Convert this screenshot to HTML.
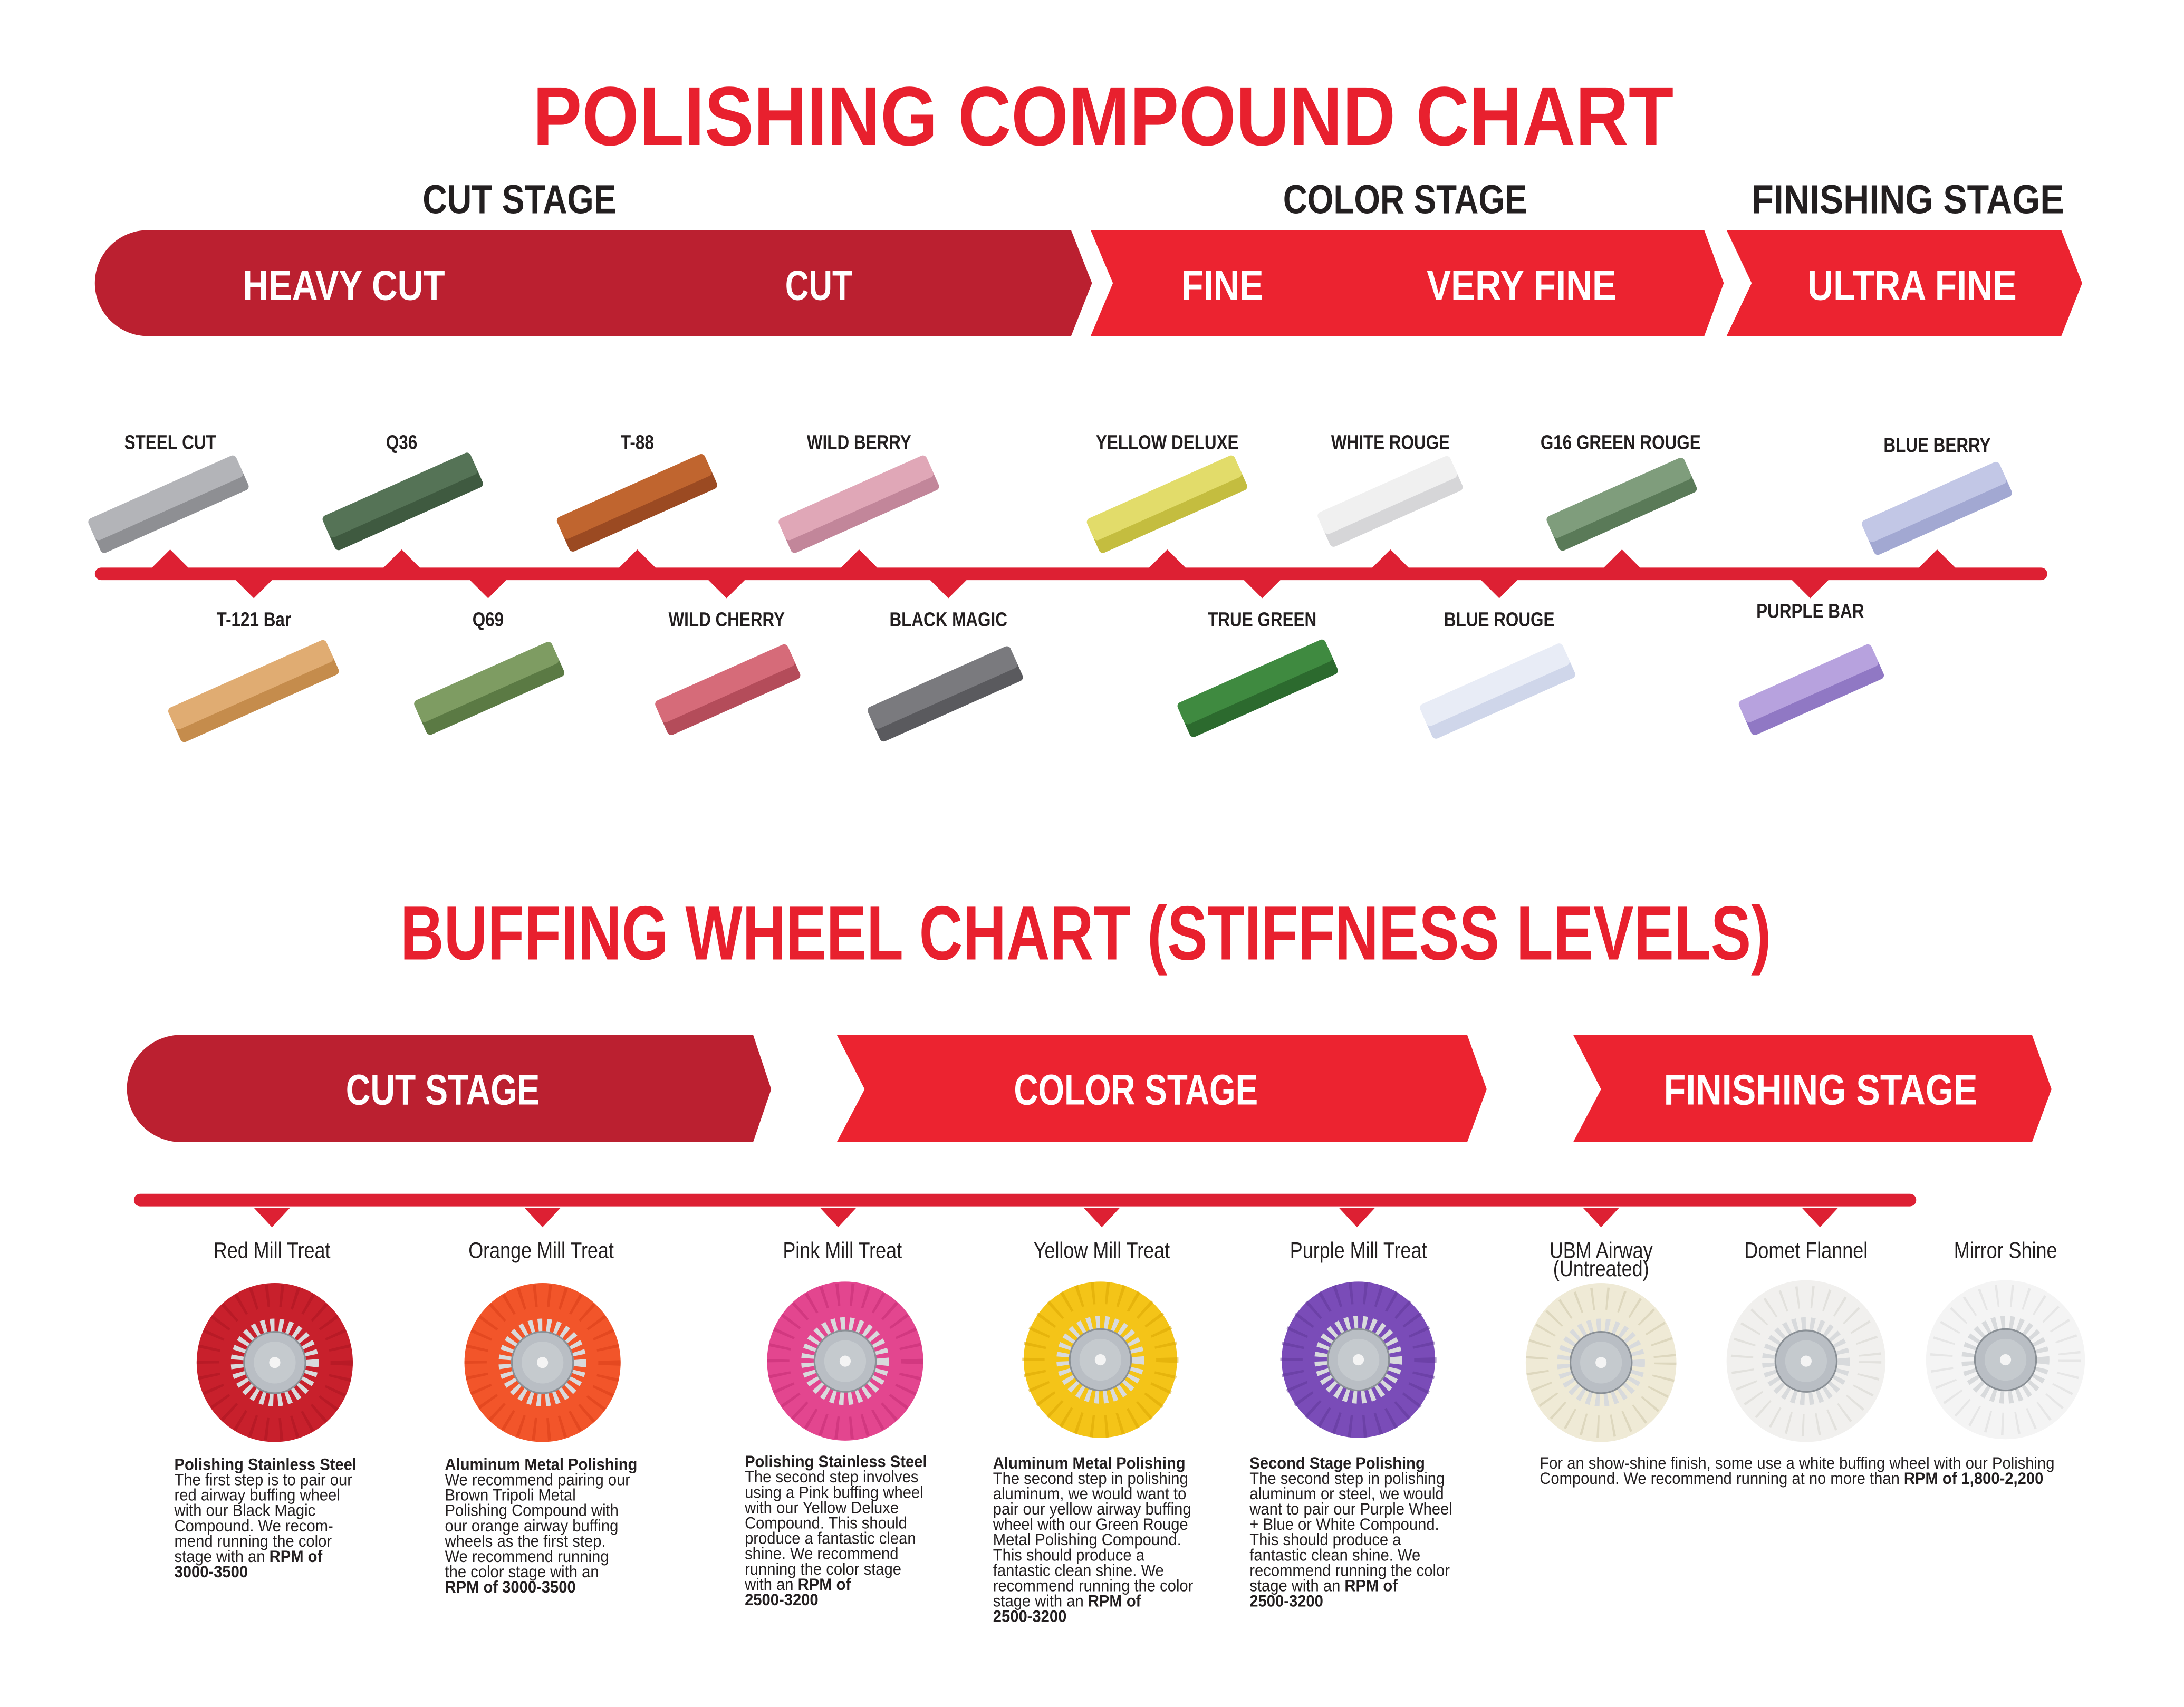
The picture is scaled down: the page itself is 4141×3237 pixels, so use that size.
<!DOCTYPE html>
<html><head><meta charset="utf-8"><style>
html,body{margin:0;padding:0;background:#fff;}
svg{display:block;}
text{font-family:"Liberation Sans",sans-serif;}
.h{font-weight:bold;}
.lb{font-weight:bold;font-size:14.5px;fill:#231f20;text-anchor:middle;}
.wl{font-size:16px;fill:#231f20;text-anchor:middle;}
.bd{font-size:12px;fill:#231f20;}
.bd tspan.b{font-weight:bold;}
</style></head><body>
<svg width="4141" height="3237" viewBox="0 0 1566 1224" preserveAspectRatio="none" xmlns="http://www.w3.org/2000/svg">
<defs>
<g id="wheelcore">
<circle r="27" fill="none" stroke="#d8dadc" stroke-width="9" stroke-dasharray="3 3.2"/>
<circle r="22" fill="#b9bec4" stroke="#8a9096" stroke-width="1.2"/>
<circle r="15" fill="#cdd2d6" opacity="0.6"/>
<circle r="4" fill="#f4f4f4"/>
</g>
</defs>
<rect width="1566" height="1224" fill="#fff"/>

<text x="382" y="104" class="h" font-size="60" fill="#e8202e" textLength="818" lengthAdjust="spacingAndGlyphs">POLISHING COMPOUND CHART</text>
<text x="303" y="153" class="h" font-size="29" fill="#231f20" textLength="139" lengthAdjust="spacingAndGlyphs">CUT STAGE</text>
<text x="920" y="153" class="h" font-size="29" fill="#231f20" textLength="175" lengthAdjust="spacingAndGlyphs">COLOR STAGE</text>
<text x="1256" y="153" class="h" font-size="29" fill="#231f20" textLength="224" lengthAdjust="spacingAndGlyphs">FINISHING STAGE</text>

<path d="M106,165 L768,165 L783,203 L768,241 L106,241 A38,38 0 0 1 106,165 Z" fill="#bb2030"/>
<path d="M782,165 L1222,165 L1236,203 L1222,241 L782,241 L798,203 Z" fill="#ec2330"/>
<path d="M1238,165 L1478,165 L1493,203 L1478,241 L1238,241 L1256,203 Z" fill="#ec2330"/>
<g class="h" font-size="30" fill="#fff">
<text x="174" y="215" textLength="145" lengthAdjust="spacingAndGlyphs">HEAVY CUT</text>
<text x="563" y="215" textLength="48" lengthAdjust="spacingAndGlyphs">CUT</text>
<text x="847" y="215" textLength="59" lengthAdjust="spacingAndGlyphs">FINE</text>
<text x="1023" y="215" textLength="136" lengthAdjust="spacingAndGlyphs">VERY FINE</text>
<text x="1296" y="215" textLength="150" lengthAdjust="spacingAndGlyphs">ULTRA FINE</text>
</g>

<rect x="68" y="407" width="1400" height="9" rx="4.5" fill="#dd2033"/>
<g fill="#dd2033">
<path d="M108,408 L122,394 L136,408Z"/><path d="M274,408 L288,394 L302,408Z"/><path d="M443,408 L457,394 L471,408Z"/><path d="M602,408 L616,394 L630,408Z"/>
<path d="M823,408 L837,394 L851,408Z"/><path d="M983,408 L997,394 L1011,408Z"/><path d="M1149,408 L1163,394 L1177,408Z"/><path d="M1375,408 L1389,394 L1403,408Z"/>
<path d="M168,415 L182,429 L196,415Z"/><path d="M336,415 L350,429 L364,415Z"/><path d="M507,415 L521,429 L535,415Z"/><path d="M666,415 L680,429 L694,415Z"/>
<path d="M891,415 L905,429 L919,415Z"/><path d="M1061,415 L1075,429 L1089,415Z"/><path d="M1284,415 L1298,429 L1312,415Z"/>
</g>

<g transform="scale(0.82,1)">
<text class="lb" x="148.8" y="322">STEEL CUT</text>
<text class="lb" x="351.2" y="322">Q36</text>
<text class="lb" x="557.3" y="322">T-88</text>
<text class="lb" x="751.2" y="322">WILD BERRY</text>
<text class="lb" x="1020.7" y="322">YELLOW DELUXE</text>
<text class="lb" x="1215.9" y="322">WHITE ROUGE</text>
<text class="lb" x="1417.1" y="322">G16 GREEN ROUGE</text>
<text class="lb" x="1693.9" y="324">BLUE BERRY</text>
<text class="lb" x="222" y="449">T-121 Bar</text>
<text class="lb" x="426.8" y="449">Q69</text>
<text class="lb" x="635.4" y="449">WILD CHERRY</text>
<text class="lb" x="829.3" y="449">BLACK MAGIC</text>
<text class="lb" x="1103.7" y="449">TRUE GREEN</text>
<text class="lb" x="1311" y="449">BLUE ROUGE</text>
<text class="lb" x="1582.9" y="443">PURPLE BAR</text>
</g>

<g>
<g transform="translate(121,362) rotate(-24)"><rect x="-58" y="-9" width="116" height="22" rx="3" fill="#8e8f93"/><rect x="-58" y="-14" width="116" height="17" rx="3" fill="#b3b4b8"/></g>
<g transform="translate(289,360) rotate(-24)"><rect x="-58" y="-9" width="116" height="22" rx="3" fill="#3f5a40"/><rect x="-58" y="-14" width="116" height="17" rx="3" fill="#557356"/></g>
<g transform="translate(457,361) rotate(-24)"><rect x="-58" y="-9" width="116" height="22" rx="3" fill="#9b4a22"/><rect x="-58" y="-14" width="116" height="17" rx="3" fill="#c0652f"/></g>
<g transform="translate(616,362) rotate(-24)"><rect x="-58" y="-9" width="116" height="22" rx="3" fill="#c2869a"/><rect x="-58" y="-14" width="116" height="17" rx="3" fill="#e0a7b7"/></g>
<g transform="translate(837,362) rotate(-24)"><rect x="-58" y="-9" width="116" height="22" rx="3" fill="#c4bd3f"/><rect x="-58" y="-14" width="116" height="17" rx="3" fill="#e2dc6a"/></g>
<g transform="translate(997,360) rotate(-24)"><rect x="-52" y="-9" width="104" height="22" rx="3" fill="#d6d6d8"/><rect x="-52" y="-14" width="104" height="17" rx="3" fill="#f0f0f0"/></g>
<g transform="translate(1163,362) rotate(-24)"><rect x="-54" y="-9" width="108" height="22" rx="3" fill="#5a7a58"/><rect x="-54" y="-14" width="108" height="17" rx="3" fill="#7f9d7c"/></g>
<g transform="translate(1389,365) rotate(-24)"><rect x="-54" y="-9" width="108" height="22" rx="3" fill="#a2a8d2"/><rect x="-54" y="-14" width="108" height="17" rx="3" fill="#c2c7e6"/></g>
<g transform="translate(182,496) rotate(-24)"><rect x="-62" y="-9" width="124" height="22" rx="3" fill="#c58c4c"/><rect x="-62" y="-14" width="124" height="17" rx="3" fill="#e0ac72"/></g>
<g transform="translate(351,494) rotate(-24)"><rect x="-54" y="-9" width="108" height="22" rx="3" fill="#5b7a44"/><rect x="-54" y="-14" width="108" height="17" rx="3" fill="#7e9c62"/></g>
<g transform="translate(522,495) rotate(-24)"><rect x="-52" y="-9" width="104" height="22" rx="3" fill="#b44c5a"/><rect x="-52" y="-14" width="104" height="17" rx="3" fill="#d66b79"/></g>
<g transform="translate(678,498) rotate(-24)"><rect x="-56" y="-9" width="112" height="22" rx="3" fill="#5a5a5e"/><rect x="-56" y="-14" width="112" height="17" rx="3" fill="#7a7a7e"/></g>
<g transform="translate(902,494) rotate(-24)"><rect x="-58" y="-9" width="116" height="22" rx="3" fill="#2c6a2e"/><rect x="-58" y="-14" width="116" height="17" rx="3" fill="#3f8a40"/></g>
<g transform="translate(1074,496) rotate(-24)"><rect x="-56" y="-9" width="112" height="22" rx="3" fill="#cfd6ea"/><rect x="-56" y="-14" width="112" height="17" rx="3" fill="#e8ecf6"/></g>
<g transform="translate(1299,495) rotate(-24)"><rect x="-52" y="-9" width="104" height="22" rx="3" fill="#9078c4"/><rect x="-52" y="-14" width="104" height="17" rx="3" fill="#b7a2de"/></g>
</g>

<text x="287" y="688" class="h" font-size="55" fill="#e8202e" textLength="983" lengthAdjust="spacingAndGlyphs">BUFFING WHEEL CHART (STIFFNESS LEVELS)</text>

<path d="M130,742 L540,742 L553,781 L540,819 L130,819 A39,38.5 0 0 1 130,742 Z" fill="#bb2030"/>
<path d="M600,742 L1052,742 L1066,781 L1052,819 L600,819 L620,781 Z" fill="#ec2330"/>
<path d="M1128,742 L1457,742 L1471,781 L1457,819 L1128,819 L1148,781 Z" fill="#ec2330"/>
<g class="h" font-size="31" fill="#fff">
<text x="248" y="792" textLength="139" lengthAdjust="spacingAndGlyphs">CUT STAGE</text>
<text x="727" y="792" textLength="175" lengthAdjust="spacingAndGlyphs">COLOR STAGE</text>
<text x="1193" y="792" textLength="225" lengthAdjust="spacingAndGlyphs">FINISHING STAGE</text>
</g>

<rect x="96" y="856" width="1278" height="9" rx="4.5" fill="#dd2033"/>
<g fill="#dd2033">
<path d="M182,866 L195,880 L208,866Z"/><path d="M376,866 L389,880 L402,866Z"/><path d="M588,866 L601,880 L614,866Z"/><path d="M777,866 L790,880 L803,866Z"/>
<path d="M960,866 L973,880 L986,866Z"/><path d="M1135,866 L1148,880 L1161,866Z"/><path d="M1292,866 L1305,880 L1318,866Z"/>
</g>

<g transform="scale(0.85,1)">
<text class="wl" x="229.4" y="902">Red Mill Treat</text>
<text class="wl" x="456.5" y="902">Orange Mill Treat</text>
<text class="wl" x="710.6" y="902">Pink Mill Treat</text>
<text class="wl" x="929.4" y="902">Yellow Mill Treat</text>
<text class="wl" x="1145.9" y="902">Purple Mill Treat</text>
<text class="wl" x="1350.6" y="902">UBM Airway</text>
<text class="wl" x="1350.6" y="915">(Untreated)</text>
<text class="wl" x="1523.5" y="902">Domet Flannel</text>
<text class="wl" x="1691.8" y="902">Mirror Shine</text>
</g>

<g transform="translate(197,977)"><ellipse rx="56" ry="57" fill="#c8202c"/><circle r="48" fill="none" stroke="#a8141f" stroke-width="16" stroke-dasharray="2 8" opacity="0.5"/><use href="#wheelcore"/></g>
<g transform="translate(389,977)"><ellipse rx="56" ry="57" fill="#f2552a"/><circle r="48" fill="none" stroke="#d63c16" stroke-width="16" stroke-dasharray="2 8" opacity="0.5"/><use href="#wheelcore"/></g>
<g transform="translate(606,976)"><ellipse rx="56" ry="57" fill="#e3468f"/><circle r="48" fill="none" stroke="#c22a72" stroke-width="16" stroke-dasharray="2 8" opacity="0.5"/><use href="#wheelcore"/></g>
<g transform="translate(789,975)"><ellipse rx="55" ry="56" fill="#f4c418"/><circle r="48" fill="none" stroke="#d8a400" stroke-width="16" stroke-dasharray="2 8" opacity="0.5"/><use href="#wheelcore"/></g>
<g transform="translate(974,975)"><ellipse rx="55" ry="56" fill="#7a4cb8"/><circle r="48" fill="none" stroke="#5e3596" stroke-width="16" stroke-dasharray="2 8" opacity="0.5"/><use href="#wheelcore"/></g>
<g transform="translate(1148,977)"><ellipse rx="54" ry="57" fill="#efead6"/><circle r="46" fill="none" stroke="#d6cfb4" stroke-width="16" stroke-dasharray="1.5 9" opacity="0.7"/><use href="#wheelcore"/></g>
<g transform="translate(1295,976)"><ellipse rx="57" ry="58" fill="#f1f0ee"/><circle r="46" fill="none" stroke="#dcdad6" stroke-width="16" stroke-dasharray="1.5 9" opacity="0.7"/><use href="#wheelcore"/></g>
<g transform="translate(1438,975)"><ellipse rx="57" ry="57" fill="#f4f4f4"/><circle r="46" fill="none" stroke="#e0e0e0" stroke-width="16" stroke-dasharray="1.5 9" opacity="0.7"/><use href="#wheelcore"/></g>

<g transform="translate(125,0) scale(0.92,1)">
<text class="bd"><tspan x="0" y="1054" class="b">Polishing Stainless Steel</tspan><tspan x="0" y="1065">The first step is to pair our</tspan><tspan x="0" y="1076">red airway buffing wheel</tspan><tspan x="0" y="1087">with our Black Magic</tspan><tspan x="0" y="1098">Compound. We recom-</tspan><tspan x="0" y="1109">mend running the color</tspan><tspan x="0" y="1120">stage with an <tspan class="b">RPM of</tspan></tspan><tspan x="0" y="1131" class="b">3000-3500</tspan></text>
</g>
<g transform="translate(319,0) scale(0.92,1)">
<text class="bd"><tspan x="0" y="1054" class="b">Aluminum Metal Polishing</tspan><tspan x="0" y="1065">We recommend pairing our</tspan><tspan x="0" y="1076">Brown Tripoli Metal</tspan><tspan x="0" y="1087">Polishing Compound with</tspan><tspan x="0" y="1098">our orange airway buffing</tspan><tspan x="0" y="1109">wheels as the first step.</tspan><tspan x="0" y="1120">We recommend running</tspan><tspan x="0" y="1131">the color stage with an</tspan><tspan x="0" y="1142" class="b">RPM of 3000-3500</tspan></text>
</g>
<g transform="translate(534,0) scale(0.92,1)">
<text class="bd"><tspan x="0" y="1052" class="b">Polishing Stainless Steel</tspan><tspan x="0" y="1063">The second step involves</tspan><tspan x="0" y="1074">using a Pink buffing wheel</tspan><tspan x="0" y="1085">with our Yellow Deluxe</tspan><tspan x="0" y="1096">Compound. This should</tspan><tspan x="0" y="1107">produce a fantastic clean</tspan><tspan x="0" y="1118">shine. We recommend</tspan><tspan x="0" y="1129">running the color stage</tspan><tspan x="0" y="1140">with an <tspan class="b">RPM of</tspan></tspan><tspan x="0" y="1151" class="b">2500-3200</tspan></text>
</g>
<g transform="translate(712,0) scale(0.92,1)">
<text class="bd"><tspan x="0" y="1053" class="b">Aluminum Metal Polishing</tspan><tspan x="0" y="1064">The second step in polishing</tspan><tspan x="0" y="1075">aluminum, we would want to</tspan><tspan x="0" y="1086">pair our yellow airway buffing</tspan><tspan x="0" y="1097">wheel with our Green Rouge</tspan><tspan x="0" y="1108">Metal Polishing Compound.</tspan><tspan x="0" y="1119">This should produce a</tspan><tspan x="0" y="1130">fantastic clean shine. We</tspan><tspan x="0" y="1141">recommend running the color</tspan><tspan x="0" y="1152">stage with an <tspan class="b">RPM of</tspan></tspan><tspan x="0" y="1163" class="b">2500-3200</tspan></text>
</g>
<g transform="translate(896,0) scale(0.92,1)">
<text class="bd"><tspan x="0" y="1053" class="b">Second Stage Polishing</tspan><tspan x="0" y="1064">The second step in polishing</tspan><tspan x="0" y="1075">aluminum or steel, we would</tspan><tspan x="0" y="1086">want to pair our Purple Wheel</tspan><tspan x="0" y="1097">+ Blue or White Compound.</tspan><tspan x="0" y="1108">This should produce a</tspan><tspan x="0" y="1119">fantastic clean shine. We</tspan><tspan x="0" y="1130">recommend running the color</tspan><tspan x="0" y="1141">stage with an <tspan class="b">RPM of</tspan></tspan><tspan x="0" y="1152" class="b">2500-3200</tspan></text>
</g>
<g transform="translate(1104,0) scale(0.92,1)">
<text class="bd"><tspan x="0" y="1053">For an show-shine finish, some use a white buffing wheel with our Polishing</tspan><tspan x="0" y="1064">Compound. We recommend running at no more than <tspan class="b">RPM of 1,800-2,200</tspan></tspan></text>
</g>
</svg>
</body></html>
